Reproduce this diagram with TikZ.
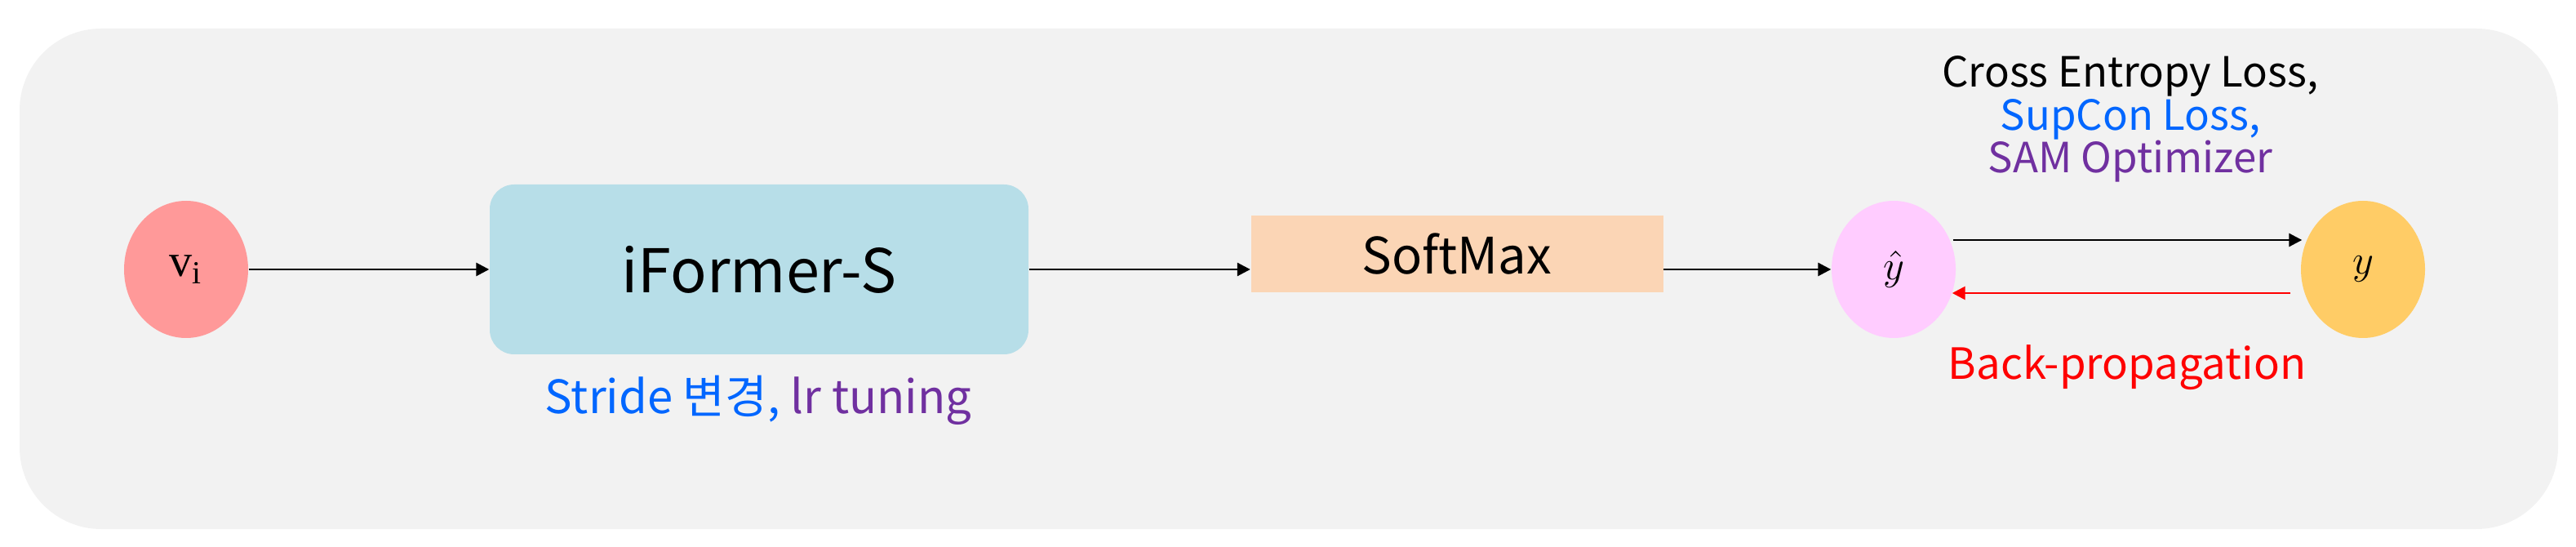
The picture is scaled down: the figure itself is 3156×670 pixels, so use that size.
\documentclass[tikz,border=0pt]{standalone}
\usepackage{fontspec}
\setmainfont{Liberation Serif}
\newfontfamily\krfont{Noto Sans CJK KR}
\usetikzlibrary{calc}
\usetikzlibrary{shapes.geometric}
\usetikzlibrary{arrows.meta}
\usetikzlibrary{positioning}

\definecolor{bgGray}{HTML}{F2F2F2}
\definecolor{viRed}{HTML}{FF9999}
\definecolor{modelBlue}{HTML}{B7DEE8}
\definecolor{softPeach}{HTML}{FBD5B5}
\definecolor{predPink}{HTML}{FFCCFF}
\definecolor{labelGold}{HTML}{FFCC66}
\definecolor{txtBlue}{HTML}{0066FF}
\definecolor{txtPurple}{HTML}{7030A0}

\begin{document}
\begin{tikzpicture}[x=0.1mm,y=-0.1mm,
    ball/.style={ellipse,minimum width=15.2mm,minimum height=16.8mm,inner sep=0pt},
    flow/.style={-{Triangle[length=1.6mm,width=1.6mm]},line width=0.8pt},
    krtext/.style={font=\krfont\fontsize{#1}{#1}\selectfont}]
    \useasboundingbox (0,0) rectangle (3156,670);
    \fill[bgGray,rounded corners=10mm] (24,35) rectangle (3134,648);

    % input, model, softmax
    \node[ball,fill=viRed] (vi) at (228,330) {\fontsize{16}{16}\selectfont v\textsubscript{i}};
    \node[rounded corners=3mm,fill=modelBlue,minimum width=66mm,minimum height=20.8mm,krtext=21] (iformer) at (930,330) {iFormer-S};
    \node[krtext=16] (stride) at (929,490) {\textcolor{txtBlue}{Stride 변경,} \textcolor{txtPurple}{lr tuning}};
    \node[fill=softPeach,minimum width=50.5mm,minimum height=9.4mm,inner sep=0pt,krtext=17.5] (softmax) at (1785,311) {SoftMax};

    % prediction and label
    \node[ball,fill=predPink,font=\fontsize{15}{15}\selectfont] (yhat) at (2320,330) {$\hat{y}$};
    \node[ball,fill=labelGold,font=\fontsize{15}{15}\selectfont] (ytrue) at (2895,330) {$y$};
    \node[align=center,font=\krfont\fontsize{14.5}{15}\selectfont] (losses) at (2610,146) {Cross Entropy Loss,\\ \textcolor{txtBlue}{SupCon Loss,}\\ \textcolor{txtPurple}{SAM Optimizer}};
    \node[red,krtext=15] (backprop) at (2606,450) {Back-propagation};

    \draw[flow] (vi.east) -- (iformer.west);
    \draw[flow] (iformer.east) -- (iformer.east -| softmax.west);
    \draw[flow] (yhat.west -| softmax.east) -- (yhat.west);
    \draw[flow] ($(yhat.east)+(-4,-36)$) -- ($(ytrue.west)+(2,-36)$);
    \draw[flow,red] ($(ytrue.west)+(-12,29)$) -- ($(yhat.east)+(-5,29)$);
\end{tikzpicture}
\end{document}
